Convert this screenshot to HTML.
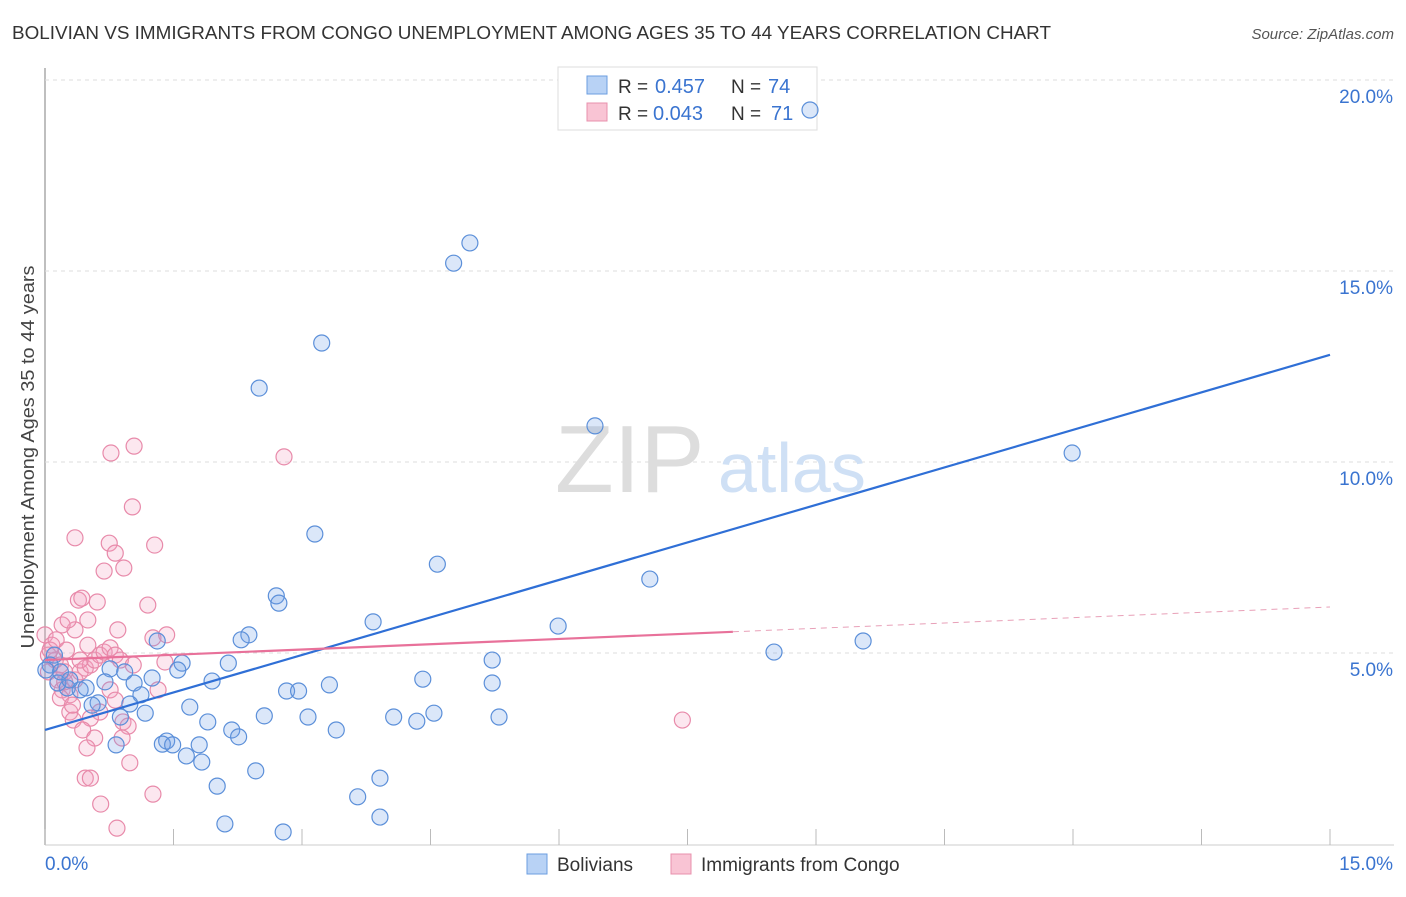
<!DOCTYPE html>
<html><head><meta charset="utf-8"><style>
body{margin:0;background:#fff;font-family:"Liberation Sans",sans-serif;}
svg text{font-family:"Liberation Sans",sans-serif;}
</style></head><body>
<svg id="c" width="1406" height="892" xmlns="http://www.w3.org/2000/svg">
<text x="12" y="39" font-size="18" fill="#333" textLength="1039" lengthAdjust="spacingAndGlyphs">BOLIVIAN VS IMMIGRANTS FROM CONGO UNEMPLOYMENT AMONG AGES 35 TO 44 YEARS CORRELATION CHART</text>
<text x="1394" y="39" font-size="15" fill="#555" font-style="italic" text-anchor="end">Source: ZipAtlas.com</text>
<text x="34" y="457" font-size="18" fill="#444" text-anchor="middle" textLength="383" lengthAdjust="spacingAndGlyphs" transform="rotate(-90 34 457)">Unemployment Among Ages 35 to 44 years</text>
<g id="grid"></g>
<text x="555" y="492" font-size="96" fill="#ddd" font-family="Liberation Serif">ZIP</text>
<text x="718" y="492" font-size="70" fill="#cfe0f5">atlas</text>
<g>
<rect x="558" y="67" width="259" height="63" fill="#fff" stroke="#ddd"/>
<rect x="587" y="76" width="20" height="18" fill="#b8d2f5" stroke="#6b9ee0"/>
<rect x="587" y="103" width="20" height="18" fill="#f9c4d4" stroke="#e890ad"/>
<text x="618" y="93" font-size="19" fill="#333">R =</text>
<text x="655" y="93" font-size="20" fill="#3a74d0">0.457</text>
<text x="731" y="93" font-size="19" fill="#333">N =</text>
<text x="768" y="93" font-size="20" fill="#3a74d0">74</text>
<text x="618" y="120" font-size="19" fill="#333">R =</text>
<text x="653" y="120" font-size="20" fill="#3a74d0">0.043</text>
<text x="731" y="120" font-size="19" fill="#333">N =</text>
<text x="771" y="120" font-size="20" fill="#3a74d0">71</text>
</g>
<g id="pts"></g>
<g id="lines"></g>
<g>
<rect x="527" y="854" width="20" height="20" fill="#b8d2f5" stroke="#6b9ee0"/>
<text x="557" y="871" font-size="19" fill="#333">Bolivians</text>
<rect x="671" y="854" width="20" height="20" fill="#f9c4d4" stroke="#e890ad"/>
<text x="701" y="871" font-size="19" fill="#333">Immigrants from Congo</text>
</g>
</svg>
<script>
const yTicks=[5,10,15,20];
const yTickLabels=["5.0%","10.0%","15.0%","20.0%"];
const xTicks=[0,1.5,3,4.5,6,7.5,9,10.5,12,13.5,15];
const blueX=[8.93,4.96,4.77,3.23,2.50,6.42,11.99,3.15,4.58,7.06,2.70,2.73,3.83,5.99,9.55,2.38,2.29,1.31,8.51,5.22,1.60,2.14,0.76,1.55,0.93,1.25,1.95,0.70,1.04,3.32,4.41,5.22,2.82,2.96,0.26,0.41,0.48,0.15,1.12,0.62,0.99,1.69,1.17,0.55,2.56,3.07,4.54,4.07,4.34,5.30,1.90,3.40,0.88,2.18,2.26,1.42,1.37,1.49,1.80,0.83,1.65,1.83,2.46,3.91,2.01,3.65,3.91,2.10,2.78,0.11,0.06,0.18,0.29,0.01];
const blueY=[19.66,16.18,15.65,13.56,12.38,11.39,10.68,8.56,7.77,7.38,6.94,6.75,6.26,6.15,5.76,5.92,5.79,5.76,5.47,5.26,5.18,5.18,5.03,5.00,4.95,4.79,4.71,4.69,4.66,4.61,4.76,4.66,4.45,4.45,4.53,4.48,4.53,4.66,4.35,4.14,4.11,4.03,3.87,4.08,3.80,3.77,3.87,3.77,3.66,3.77,3.64,3.43,3.77,3.43,3.25,3.14,3.06,3.04,3.04,3.04,2.75,2.59,2.36,2.17,1.96,1.68,1.15,0.97,0.76,5.39,5.13,4.95,4.74,5.00];
const pinkX=[0,0.08,0.04,0.12,0.18,0.23,0.04,0.15,0.20,0.29,0.35,0.41,0.47,0.53,0.58,0.64,0.69,0.76,0.82,0.50,0.35,0.20,0.27,0.39,0.43,0.61,0.50,0.85,0.88,1.03,1.20,1.28,1.02,1.04,0.77,2.79,0.35,0.75,0.82,0.69,0.92,1.26,1.42,1.40,1.32,0.76,0.82,0.64,0.53,0.29,0.18,0.33,0.44,0.58,0.91,0.97,0.90,0.49,0.99,0.47,0.53,0.65,0.84,1.26,7.44,0.23,0.32,0.06,0.13,0.25,0.41];
const pinkY=[5.92,5.65,5.39,5.26,5.13,4.95,4.95,4.74,4.48,4.35,4.74,4.95,5.05,5.13,5.26,5.39,5.47,5.58,5.39,5.65,6.05,6.18,6.31,6.83,6.88,6.78,6.31,6.05,5.26,5.13,6.70,8.27,9.27,10.86,10.68,10.58,8.46,8.32,8.06,7.59,7.67,5.84,5.92,5.21,4.48,4.48,4.21,3.90,3.74,3.90,4.27,3.69,3.43,3.22,3.64,3.53,3.22,2.96,2.57,2.17,2.17,1.49,0.86,1.75,3.69,4.69,4.08,5.52,5.79,5.52,5.26];
const blueTrend=[[0,3.43],[15,13.25]];
const pinkTrendSolid=[[0,5.26],[8.03,6.0]];
const pinkTrendDash=[[8.03,6.0],[15,6.65]];
const X=v=>45+v*1285/15;
const Y=v=>861-v*38.2;
const NS="http://www.w3.org/2000/svg";
function mk(t,a,p){const e=document.createElementNS(NS,t);for(const k in a)e.setAttribute(k,a[k]);p.appendChild(e);return e;}
const svg=document.getElementById('c');
const grid=document.getElementById('grid');
mk('line',{x1:45,y1:68,x2:45,y2:845,stroke:'#aaa','stroke-width':1.5},grid);
mk('line',{x1:45,y1:845,x2:1394,y2:845,stroke:'#ccc'},grid);
yTicks.forEach((t,i)=>{
 const gl=mk('line',{x1:45,y1:Y(t)-17,x2:1394,y2:Y(t)-17,stroke:'#ddd','stroke-dasharray':'4 4'},grid);
 
 
 const tl=mk('text',{x:1393,y:Y(t)+6,'font-size':19,fill:'#3a74d0','text-anchor':'end'},svg);
 tl.textContent=yTickLabels[i];
 
 
});
xTicks.forEach(t=>{
 const tk=mk('line',{x1:X(t),y1:829,x2:X(t),y2:845,stroke:'#bbb'},grid);
 
 
});
[["0.0%",45,'start'],["15.0%",1393,'end']].forEach(a=>{
 const e=mk('text',{x:a[1],y:870,'font-size':19,fill:'#3a74d0','text-anchor':a[2]},svg);
 e.textContent=a[0];
 
 
});
const pts=document.getElementById('pts');
pinkX.forEach((x,i)=>{
 const c=mk('circle',{cx:X(x),cy:Y(pinkY[i]),r:8,fill:'rgba(244,160,190,0.25)',stroke:'#e88aaa','stroke-width':1.2},pts);
 
 
});
blueX.forEach((x,i)=>{
 const c=mk('circle',{cx:X(x),cy:Y(blueY[i]),r:8,fill:'rgba(110,160,230,0.25)',stroke:'#5b8fd9','stroke-width':1.2},pts);
 
 
});
const lines=document.getElementById('lines');
const bl=mk('line',{x1:X(blueTrend[0][0]),y1:Y(blueTrend[0][1]),x2:X(blueTrend[1][0]),y2:Y(blueTrend[1][1]),stroke:'#2f6fd6','stroke-width':2.2},lines);


const pl=mk('line',{x1:X(pinkTrendSolid[0][0]),y1:Y(pinkTrendSolid[0][1]),x2:X(pinkTrendSolid[1][0]),y2:Y(pinkTrendSolid[1][1]),stroke:'#e8719a','stroke-width':2.2},lines);


const pd=mk('line',{x1:X(pinkTrendDash[0][0]),y1:Y(pinkTrendDash[0][1]),x2:X(pinkTrendDash[1][0]),y2:Y(pinkTrendDash[1][1]),stroke:'#e8a0b8','stroke-width':1,'stroke-dasharray':'6 5'},lines);


</script>
</body></html>
